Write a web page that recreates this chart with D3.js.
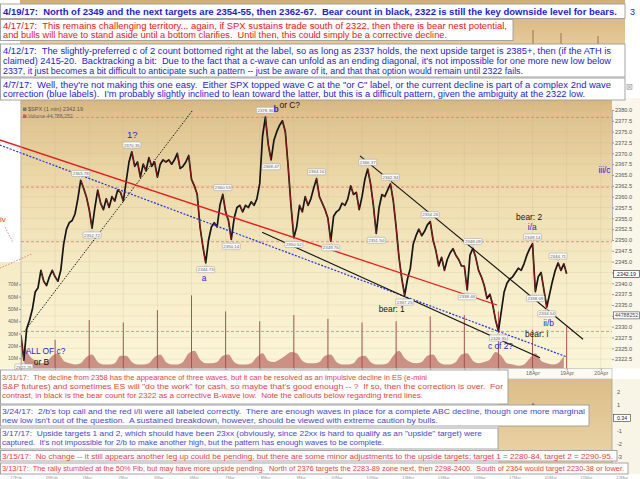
<!DOCTYPE html>
<html>
<head>
<meta charset="utf-8">
<script src="https://d3js.org/d3.v7.min.js"></script>
<style>
  body { margin: 0; background: #fff; }
  svg { display: block; font-family: "Liberation Sans", Arial, sans-serif; }
</style>
</head>
<body>
<div id="chart"></div>
<script>
// ---------------- data ----------------
var dayLabels = ["27Mar", "28Mar", "29Mar", "30Mar", "31Mar", "3Apr", "4Apr", "5Apr", "6Apr",
                 "7Apr", "10Apr", "11Apr", "12Apr", "13Apr", "17Apr", "18Apr", "19Apr", "20Apr"];
var samplesPerDay = 12;
// $SPX 1-min path, 12 readings per session + last close
var spxPath = [
  2328.0, 2322.25, 2329.5, 2331.5, 2334.0, 2338.0, 2339.0, 2343.0, 2340.5, 2339.5, 2341.5, 2343.0,
  2341.5, 2340.5, 2343.0, 2349.0, 2352.5, 2354.0, 2354.5, 2356.0, 2359.5, 2363.78, 2362.0, 2360.0,
  2357.0, 2352.72, 2357.5, 2361.5, 2358.5, 2357.0, 2359.5, 2357.5, 2360.0, 2359.0, 2361.5, 2361.0,
  2359.0, 2363.5, 2368.0, 2370.35, 2367.0, 2368.0, 2364.5, 2367.5, 2366.0, 2369.0, 2367.0, 2368.0,
  2364.5, 2367.5, 2368.5, 2368.0, 2368.5, 2367.5, 2368.5, 2370.0, 2366.5, 2367.0, 2368.0, 2369.5,
  2364.0, 2362.5, 2360.5, 2353.0, 2348.5, 2344.73, 2350.0, 2353.0, 2354.0, 2353.0, 2358.0, 2360.53,
  2356.5, 2354.5, 2350.14, 2355.0, 2357.5, 2358.0, 2356.5, 2358.0, 2357.5, 2358.8, 2358.0, 2359.5,
  2363.0, 2374.0, 2378.36, 2372.0, 2368.47, 2373.0, 2375.0, 2376.5, 2377.5, 2375.0, 2367.0, 2358.0,
  2350.52, 2353.0, 2358.0, 2356.5, 2360.0, 2358.0, 2359.5, 2362.0, 2364.16, 2360.0, 2358.5, 2357.0,
  2355.0, 2349.76, 2355.5, 2356.5, 2357.0, 2358.5, 2358.0, 2359.5, 2362.5, 2360.5, 2361.0, 2357.0,
  2360.0, 2364.0, 2366.37, 2363.0, 2358.0, 2351.5, 2357.5, 2360.5, 2360.0, 2361.5, 2362.94, 2359.0,
  2353.0, 2346.0, 2341.0, 2337.25, 2341.0, 2343.5, 2349.0, 2351.0, 2352.5, 2351.0, 2352.0, 2353.5,
  2354.26, 2350.0, 2347.5, 2344.0, 2346.0, 2343.0, 2345.5, 2347.0, 2348.0, 2346.5, 2345.5, 2344.0,
  2344.0, 2338.46, 2346.5, 2348.09, 2346.0, 2343.0, 2341.5, 2339.5, 2336.5, 2337.5, 2335.0, 2331.5,
  2328.95, 2333.5, 2338.0, 2340.0, 2341.0, 2341.5, 2342.5, 2343.5, 2343.0, 2344.5, 2346.5, 2348.0,
  2349.14, 2338.09, 2341.5, 2342.5, 2338.5, 2334.54, 2337.5, 2340.5, 2343.0, 2344.71, 2343.0, 2344.5,
  2342.19
];
// volume (millions), 6 readings per session
var volPerDay = 6;
var volumeBase = [
  22, 12, 8, 6, 7, 12,   14, 8, 6, 5, 6, 11,   13, 7, 5, 5, 6, 12,   12, 7, 5, 5, 6, 11,
  13, 7, 5, 5, 7, 14,    16, 9, 6, 6, 7, 12,   13, 7, 5, 5, 6, 11,   14, 8, 7, 9, 12, 15,
  14, 8, 6, 6, 7, 12,    13, 7, 5, 5, 6, 11,   12, 7, 5, 5, 6, 12,   16, 10, 7, 6, 7, 12,
  13, 7, 5, 5, 7, 13,    14, 8, 6, 7, 9, 15,   12, 6, 5, 4, 5, 10,   14, 8, 6, 5, 6, 12
];
// opening / closing minute spikes at each session boundary (millions)
var openSpikeVol = [27, 25, 41, 39, 49, 61, 48, 40, 45, 42, 39, 40, 44, 45, 48, 33, 36];

var priceTicks = [2322.5, 2325.0, 2327.5, 2330.0, 2332.5, 2335.0, 2337.5, 2340.0, 2342.5, 2345.0,
                  2347.5, 2350.0, 2352.5, 2355.0, 2357.5, 2360.0, 2362.5, 2365.0, 2367.5, 2370.0,
                  2372.5, 2375.0, 2377.5, 2380.0];
var volumeTicks = [10, 20, 30, 40, 50, 60, 70];
var levelLines = [2378.3, 2362.2, 2349.6, 2328.9];
var lastVolume = 44.788252;

// price callouts: index into spxPath, and whether it marks a high or a low
var calloutIndex = [1, 21, 25, 39, 65, 71, 74, 86, 88, 96, 104, 109, 122, 125, 130, 135, 144, 157, 159, 168, 180, 181, 185, 189];
var calloutKind = ["lo", "hi", "lo", "hi", "lo", "hi", "lo", "hi", "lo", "lo", "hi", "lo",
                   "hi", "lo", "hi", "lo", "hi", "lo", "hi", "lo", "hi", "lo", "lo", "hi"];

// trend lines (session index, price)
var trendStartDay = [0.09, -0.62, -0.62, 9.94, 7.07];
var trendStartPrice = [2328.8, 2373.1, 2371.9, 2369.4, 2351.8];
var trendEndDay = [5.02, 13.96, 16.01, 16.48, 15.22];
var trendEndPrice = [2379.8, 2335.0, 2323.0, 2327.1, 2322.8];
var trendKind = ["blackDot", "red", "blueDot", "black", "black"];

// wave labels
var waveText = ["1?", "b", "or C?", "a", "iii/c", "bear: 2", "i/a", "bear: 1", "ii/b", "bear: i", "c of 2?", "ALL OF c?", "or B"];
var waveDay = [3.26, 7.48, 7.88, 5.37, 17.11, 14.9, 14.99, 10.87, 15.47, 15.12, 14.06, 0.72, 0.6];
var wavePrice = [2374.4, 2380.2, 2381.2, 2341.2, 2366.2, 2355.4, 2353.1, 2334.0, 2330.9, 2328.3, 2325.5, 2324.4, 2321.9];
var waveCount = ["bull", "bull", "bear", "bull", "bull", "bear", "bull", "bear", "bull", "bear", "bull", "bull", "bear"];

// leftover marks of the older chart on the left edge
var oldLineStartDay = [-0.47, -0.62];
var oldLineStartPrice = [2353.0, 2343.5];
var oldLineEndDay = [-0.24, 0.32];
var oldLineEndPrice = [2349.5, 2346.8];

// older chart pieces at the bottom right
var oscTicks = [2, 1, -1, -2, -3];
var oscTail = [0.4, 1.1, 0.8, 0.5, 0.3, 0.6, 0.9, 0.5];
var oldDates = ["27Feb", "28Feb", "1Mar", "2Mar", "3Mar", "6Mar", "7Mar", "8Mar", "9Mar", "10Mar",
                "13Mar", "14Mar", "15Mar", "16Mar", "17Mar", "20Mar", "21Mar", "22Mar"];

// commentary
var note0419 = ["4/19/17:  North of 2349 and the next targets are 2354-55, then 2362-67.  Bear count in black, 2322 is still the key downside level for bears."];
var note0417 = ["4/17/17:  This remains challenging territory... again, if SPX sustains trade south of 2322, then there is bear nest potential,",
                "and bulls will have to stand aside until a bottom clarifies.  Until then, this could simply be a corrective decline."];
var note0412 = ["4/12/17:  The slightly-preferred c of 2 count bottomed right at the label, so as long as 2337 holds, the next upside target is 2385+, then (if the ATH is",
                "claimed) 2415-20.  Backtracking a bit:  Due to the fact that a c-wave can unfold as an ending diagonal, it's not impossible for one more new low below",
                "2337, it just becomes a bit difficult to anticipate such a pattern -- just be aware of it, and that that option would remain until 2322 fails."];
var note0407 = ["4/7/17:  Well, they're not making this one easy.  Either SPX topped wave C at the \"or C\" label, or the current decline is part of a complex 2nd wave",
                "correction (blue labels).  I'm probably slightly inclined to lean toward the latter, but this is a difficult pattern, given the ambiguity at the 2322 low."];
var note0331 = ["3/31/17:  The decline from 2358 has the appearance of three waves, but it can be resolved as an impulsive decline in ES (e-mini",
                "S&P futures) and sometimes ES will \"do the work\" for cash, so maybe that's good enough -- ?  If so, then the correction is over.  For",
                "contrast, in black is the bear count for 2322 as a corrective B-wave low.  Note the callouts below regarding trend lines."];
var note0324 = ["3/24/17:  2/b's top call and the red i/ii were all labeled correctly.  There are enough waves in place for a complete ABC decline, though one more marginal",
                "new low isn't out of the question.  A sustained breakdown, however, should be viewed with extreme caution by bulls."];
var note0317 = ["3/17/17:  Upside targets 1 and 2, which should have been 23xx (obviously, since 22xx is hard to qualify as an \"upside\" target) were",
                "captured.  It's not impossible for 2/b to make another high, but the pattern has enough waves to be complete."];
var note0315 = ["3/15/17:  No change -- it still appears another leg up could be pending, but there are some minor adjustments to the upside targets; target 1 = 2280-84, target 2 = 2290-95."];
var note0313 = ["3/13/17:  The rally stumbled at the 50% Fib, but may have more upside pending.  North of 2376 targets the 2283-89 zone next, then 2298-2400.  South of 2364 would target 2230-38 or lower."];

// ---------------- drawing ----------------
var W = 640, H = 479;
var plotL = 21, plotR = 612, plotT = 98, plotB = 368.5;

var svg = d3.select("#chart").append("svg")
    .attr("width", W)
    .attr("height", H);

svg.append("rect").attr("width", W).attr("height", H).attr("fill", "#fff");

var defs = svg.append("defs");
function vGrad(id, stops) {
    var g = defs.append("linearGradient").attr("id", id)
        .attr("x1", 0).attr("y1", 0).attr("x2", 0).attr("y2", 1);
    stops.forEach(function(s) {
        g.append("stop").attr("offset", s[0]).attr("stop-color", s[1]);
    });
}
vGrad("bgMain", [[0, "#d5b47e"], [0.06, "#dec28e"], [0.3, "#ecd9a9"], [0.65, "#f6ecc7"], [1, "#fbf5d8"]]);
vGrad("bgOld", [[0, "#d3ae78"], [1, "#e6cb99"]]);
vGrad("bgOld2", [[0, "#dcbd88"], [1, "#ecd8ab"]]);

defs.append("clipPath").attr("id", "plotClip")
    .append("rect").attr("x", plotL).attr("y", plotT).attr("width", plotR - plotL).attr("height", plotB - plotT);

var x = d3.scaleLinear().domain([0, 17.33]).range([plotL, plotR]);
var y = d3.scaleLinear().domain([2350, 2380]).range([240, 110]);
var yVol = d3.scaleLinear().domain([0, 70]).range([370.6, 284.3]);

// older chart peeking out at the top
svg.append("rect").attr("x", 20).attr("y", 0).attr("width", 605).attr("height", 45).attr("fill", "url(#bgOld)");
[533, 561, 598].forEach(function(px, i) {
    svg.append("line").attr("x1", px).attr("x2", px).attr("y1", 44).attr("y2", 30 + i * 3)
        .attr("stroke", "#8a5a48").attr("stroke-width", 0.8);
});

// main panel background (plot + left strip)
svg.append("rect").attr("x", 0).attr("y", plotT).attr("width", plotR).attr("height", plotB - plotT)
    .attr("fill", "url(#bgMain)");
// white patch of an older image on the left
svg.append("rect").attr("x", 0).attr("y", plotT).attr("width", plotL - 0.5).attr("height", 164).attr("fill", "#fff");
// right axis background
svg.append("rect").attr("x", plotR).attr("y", plotT).attr("width", W - plotR).attr("height", plotB - plotT)
    .attr("fill", "#faf6ea");

var plot = svg.append("g").attr("clip-path", "url(#plotClip)");

// grid
plot.selectAll(".hgrid").data(priceTicks).join("line")
    .attr("x1", plotL).attr("x2", plotR)
    .attr("y1", function(d) { return y(d); }).attr("y2", function(d) { return y(d); })
    .attr("stroke", "#c9b58c").attr("stroke-opacity", 0.35).attr("stroke-width", 0.6);
plot.selectAll(".vgrid").data(d3.range(1, dayLabels.length)).join("line")
    .attr("x1", function(d) { return x(d); }).attr("x2", function(d) { return x(d); })
    .attr("y1", plotT).attr("y2", plotB)
    .attr("stroke", "#c9b58c").attr("stroke-opacity", 0.4).attr("stroke-width", 0.6);

// volume
var volArea = d3.area()
    .x(function(d, i) { return x(Math.floor(i / volPerDay) + (i % volPerDay + 0.5) / volPerDay); })
    .y0(yVol(0))
    .y1(function(d) { return yVol(d); })
    .curve(d3.curveMonotoneX);
plot.append("path").attr("d", volArea(volumeBase))
    .attr("fill", "#bf756d").attr("fill-opacity", 0.78);
plot.selectAll(".spike").data(openSpikeVol).join("line")
    .attr("x1", function(d, i) { return x(i); }).attr("x2", function(d, i) { return x(i); })
    .attr("y1", yVol(0)).attr("y2", function(d) { return yVol(d); })
    .attr("stroke", "#a8544e").attr("stroke-width", 1);

// horizontal level lines
plot.selectAll(".level").data(levelLines).join("line")
    .attr("x1", plotL).attr("x2", plotR)
    .attr("y1", function(d) { return y(d); }).attr("y2", function(d) { return y(d); })
    .attr("stroke", "#f07474").attr("stroke-width", 0.8).attr("stroke-dasharray", "3,2");

// price path
var pts = spxPath.map(function(p, i) { return [x(i / samplesPerDay), y(p)]; });
plot.append("path").attr("d", d3.line()(pts))
    .attr("fill", "none").attr("stroke", "#141414").attr("stroke-width", 1.7)
    .attr("stroke-linejoin", "round");
var downs = d3.range(1, spxPath.length).filter(function(i) { return spxPath[i] < spxPath[i - 1]; });
plot.selectAll(".dn").data(downs).join("line")
    .attr("x1", function(i) { return pts[i - 1][0]; }).attr("y1", function(i) { return pts[i - 1][1]; })
    .attr("x2", function(i) { return pts[i][0]; }).attr("y2", function(i) { return pts[i][1]; })
    .attr("stroke", "#c41a1a").attr("stroke-width", 0.7);

// trend lines (not clipped: red and blue run into the left strip)
var trendStyle = {
    blackDot: { stroke: "#111", width: 1, dash: "1.5,1.5" },
    red: { stroke: "#e81a1a", width: 1.3, dash: null },
    blueDot: { stroke: "#2233e0", width: 1.2, dash: "2,1.5" },
    black: { stroke: "#111", width: 1.1, dash: null }
};
trendKind.forEach(function(k, i) {
    var s = trendStyle[k];
    svg.append("line")
        .attr("x1", x(trendStartDay[i])).attr("y1", y(trendStartPrice[i]))
        .attr("x2", x(trendEndDay[i])).attr("y2", y(trendEndPrice[i]))
        .attr("stroke", s.stroke).attr("stroke-width", s.width)
        .attr("stroke-dasharray", s.dash);
});

// older chart leftovers on the left
oldLineStartDay.forEach(function(d, i) {
    svg.append("line")
        .attr("x1", x(d)).attr("y1", y(oldLineStartPrice[i]))
        .attr("x2", x(oldLineEndDay[i])).attr("y2", y(oldLineEndPrice[i]))
        .attr("stroke", "#f06464").attr("stroke-width", 0.8).attr("stroke-dasharray", "1.5,1.5");
});
svg.append("text").attr("x", x(-0.53)).attr("y", y(2354.8)).attr("dy", "0.35em")
    .attr("text-anchor", "middle").attr("font-size", 8).attr("fill", "#e83030").text("iv");

// price callouts
var callouts = svg.append("g");
calloutIndex.forEach(function(idx, k) {
    var cx = x(idx / samplesPerDay), cy = y(spxPath[idx]);
    var hi = calloutKind[k] === "hi";
    var by = hi ? cy - 9.8 : cy + 3.8;
    var tip = hi
        ? [[cx - 1.6, cy - 3.9], [cx + 1.6, cy - 3.9], [cx, cy - 1.8]]
        : [[cx - 1.6, cy + 3.9], [cx + 1.6, cy + 3.9], [cx, cy + 1.8]];
    callouts.append("path").attr("d", d3.line()(tip) + "Z").attr("fill", "#fff").attr("stroke", "#999").attr("stroke-width", 0.4);
    callouts.append("rect").attr("x", cx - 9).attr("y", by).attr("width", 18).attr("height", 6)
        .attr("rx", 1).attr("fill", "#fbfbfb").attr("stroke", "#9a9a9a").attr("stroke-width", 0.5);
    callouts.append("text").attr("x", cx).attr("y", by + 3.1).attr("dy", "0.35em")
        .attr("text-anchor", "middle").attr("font-size", 4.4).attr("fill", "#666")
        .text(spxPath[idx].toFixed(2));
});

// wave labels
svg.selectAll(".wave").data(waveText).join("text")
    .attr("x", function(d, i) { return x(waveDay[i]); })
    .attr("y", function(d, i) { return y(wavePrice[i]); })
    .attr("dy", "0.35em")
    .attr("text-anchor", "middle")
    .attr("font-size", function(d) { return d === "1?" ? 9.5 : 8.4; })
    .attr("font-weight", function(d) { return d === "b" ? "bold" : "normal"; })
    .attr("fill", function(d, i) { return waveCount[i] === "bull" ? "#1c24dc" : "#151515"; })
    .text(function(d) { return d; });

// chart header
svg.append("rect").attr("x", 23).attr("y", 107.5).attr("width", 3.5).attr("height", 3.5).attr("fill", "#777");
svg.append("text").attr("x", 28).attr("y", 111.2).attr("font-size", 5.6).attr("fill", "#555").text("$SPX (1 min) 2342.19");
svg.append("rect").attr("x", 23).attr("y", 114.5).attr("width", 3.5).attr("height", 3.5).attr("fill", "#b9625c");
svg.append("text").attr("x", 28).attr("y", 118.3).attr("font-size", 5.2).attr("fill", "#666").text("Volume 44,788,252");

svg.append("line").attr("x1", plotL).attr("x2", plotL).attr("y1", plotT).attr("y2", plotB)
    .attr("stroke", "#aaa").attr("stroke-width", 0.6);

// right price axis; the labels hidden under the last-price and volume markers are left out
var markerYs = [y(spxPath[spxPath.length - 1]), yVol(lastVolume)];
var axR = svg.append("g").attr("transform", "translate(" + plotR + ",0)")
    .call(d3.axisRight(y).tickValues(priceTicks).tickFormat(d3.format(".1f")).tickSize(2).tickPadding(1));
axR.attr("font-size", 5.6).attr("font-family", null);
axR.select(".domain").attr("stroke", "#999").attr("stroke-width", 0.7);
axR.selectAll(".tick line").attr("stroke", "#999");
axR.selectAll("text").attr("fill", "#555");
axR.selectAll(".tick").filter(function(d) {
    return markerYs.some(function(my) { return Math.abs(y(d) - my) < 7; });
}).select("text").remove();
// last price and last volume markers
[[markerYs[0], spxPath[spxPath.length - 1].toFixed(2), "#222"],
 [markerYs[1], d3.format("d")(lastVolume * 1e6), "#444"]].forEach(function(m) {
    svg.append("rect").attr("x", plotR + 1.5).attr("y", m[0] - 3.5).attr("width", 26).attr("height", 7)
        .attr("fill", "#fff").attr("stroke", m[2]).attr("stroke-width", 0.6);
    svg.append("text").attr("x", plotR + 14.5).attr("y", m[0]).attr("dy", "0.35em").attr("text-anchor", "middle")
        .attr("font-size", 5.2).attr("fill", m[2]).text(m[1]);
});

// left volume axis
var axL = svg.append("g").attr("transform", "translate(" + plotL + ",0)")
    .call(d3.axisLeft(yVol).tickValues(volumeTicks).tickFormat(function(d) { return d + "M"; }).tickSize(2).tickPadding(1));
axL.attr("font-size", 5.2).attr("font-family", null);
axL.select(".domain").remove();
axL.selectAll(".tick line").attr("stroke", "#999");
axL.selectAll("text").attr("fill", "#666");

// date axis strip (labels of the earlier sessions sit under the commentary boxes)
svg.append("rect").attr("x", plotL).attr("y", plotB).attr("width", plotR - plotL).attr("height", 10.5)
    .attr("fill", "#fcfaf3").attr("stroke", "#b5b5b5").attr("stroke-width", 0.6);
var axB = svg.append("g").attr("transform", "translate(0," + plotB + ")")
    .call(d3.axisBottom(x).tickValues(d3.range(dayLabels.length))
        .tickFormat(function(i) { return i >= 15 ? dayLabels[i] : ""; })
        .tickSize(2).tickPadding(0.5));
axB.attr("font-size", 5.2).attr("font-family", null);
axB.select(".domain").remove();
axB.selectAll(".tick line").attr("stroke", "#999");
axB.selectAll("text").attr("fill", "#666");

// older chart at the bottom right
svg.append("rect").attr("x", 498).attr("y", 379).attr("width", plotR - 498).attr("height", 95).attr("fill", "url(#bgOld2)");
svg.append("rect").attr("x", plotR).attr("y", 379).attr("width", W - plotR).attr("height", 95).attr("fill", "#f8f4e6");
svg.append("line").attr("x1", plotR).attr("x2", plotR).attr("y1", 379).attr("y2", 474).attr("stroke", "#999").attr("stroke-width", 0.7);
var yOsc = d3.scaleLinear().domain([0, 1]).range([418, 405]);
svg.selectAll(".osct").data(oscTicks).join("text")
    .attr("x", plotR + 5).attr("y", function(d) { return yOsc(d); }).attr("dy", "0.35em")
    .attr("font-size", 5.6).attr("fill", "#555").text(function(d) { return d; });
svg.append("rect").attr("x", plotR + 1.5).attr("y", yOsc(0) - 3.5).attr("width", 17).attr("height", 7)
    .attr("fill", "#fff").attr("stroke", "#333").attr("stroke-width", 0.6);
svg.append("text").attr("x", plotR + 10).attr("y", yOsc(0)).attr("dy", "0.35em").attr("text-anchor", "middle")
    .attr("font-size", 5.2).attr("fill", "#222").text("0.34");
var oldX = d3.scaleLinear().domain([0, oscTail.length - 1]).range([528, 562]);
svg.append("path").attr("d", d3.line().x(function(d, i) { return oldX(i); }).y(function(d) { return yOsc(d); })(oscTail))
    .attr("fill", "none").attr("stroke", "#222").attr("stroke-width", 0.8);
var oldDateX = d3.scaleLinear().domain([0, oldDates.length - 1]).range([16, 622]);
svg.selectAll(".olddate").data(oldDates).join("text")
    .attr("x", function(d, i) { return oldDateX(i); }).attr("y", 477.2).attr("dy", "0.35em")
    .attr("text-anchor", "middle").attr("font-size", 4.2).attr("fill", "#999").text(function(d) { return d; });

// commentary boxes
var blue = "#1d1dcf", red = "#ec1414", blueSoft = "#4646d6", redSoft = "#ec4343";
var boxes = [
    { lines: note0419, x1: 625, y0: 4, y1: 18.5, ys: [11.4], fill: blue, bold: true, fs: 9.0, tl: [614], tx: 3 },
    { lines: note0417, x1: 513, y0: 19.5, y1: 40.5, ys: [26.4, 35.3], fill: red, fs: 8.4, tl: [504, 444], tx: 3 },
    { lines: note0412, x1: 625, y0: 44, y1: 77, ys: [50.8, 60.9, 70.8], fill: blue, fs: 8.5, tl: [608, 608, 520], tx: 3 },
    { lines: note0407, x1: 625, y0: 78, y1: 100, ys: [84.8, 94.2], fill: blue, fs: 8.5, tl: [608, 582], tx: 3 },
    { lines: note0331, x1: 508, y0: 370, y1: 404, ys: [377, 386.2, 395.3], fill: redSoft, fs: 7.8, tl: [425, 501, 421], tx: 2 },
    { lines: note0324, x1: 589, y0: 405, y1: 426, ys: [411.7, 420.7], fill: blueSoft, fs: 7.8, tl: [583, 436], tx: 2 },
    { lines: note0317, x1: 498, y0: 428, y1: 449, ys: [433.5, 442.2], fill: blueSoft, fs: 7.8, tl: [480, 382], tx: 2 },
    { lines: note0315, x1: 617, y0: 450.5, y1: 461, ys: [455.8], fill: redSoft, fs: 7.8, tl: [611], tx: 2 },
    { lines: note0313, x1: 628, y0: 463, y1: 474, ys: [468.4], fill: redSoft, fs: 7.3, tl: [622], tx: 2 }
];
boxes.forEach(function(b) {
    var g = svg.append("g");
    g.append("rect").attr("x", 0.5).attr("y", b.y0).attr("width", b.x1 - 0.5).attr("height", b.y1 - b.y0)
        .attr("fill", "#fff").attr("stroke", "#9c9c9c").attr("stroke-width", 0.9);
    b.lines.forEach(function(line, i) {
        g.append("text").attr("x", b.tx).attr("y", b.ys[i]).attr("dy", "0.35em")
            .attr("font-size", b.fs).attr("font-weight", b.bold ? "bold" : "normal")
            .attr("fill", b.fill)
            .attr("textLength", b.tl[i]).attr("lengthAdjust", "spacingAndGlyphs")
            .attr("xml:space", "preserve")
            .text(line);
    });
});

svg.append("text").attr("x", 630).attr("y", 11.4).attr("dy", "0.35em").attr("font-size", 9).attr("fill", blue).text("3");
svg.append("rect").attr("x", 627).attr("y", 84.5).attr("width", 5).attr("height", 5)
    .attr("fill", "#eee").attr("stroke", "#888").attr("stroke-width", 0.5);
svg.append("path").attr("d", "M627.8,85.3L631.2,88.7M631.2,85.3L627.8,88.7").attr("stroke", "#777").attr("stroke-width", 0.5);
</script>
</body>
</html>
